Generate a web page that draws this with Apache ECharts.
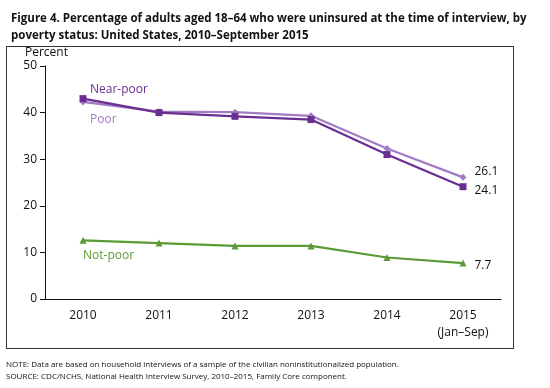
<!DOCTYPE html>
<html><head><meta charset="utf-8">
<script src="https://cdn.jsdelivr.net/npm/echarts@6/dist/echarts.min.js"></script>
<style>html,body{margin:0;padding:0;background:#fff}#wrap{position:relative;width:550px;height:388px}#c{width:550px;height:388px}#frame{position:absolute;left:6px;top:46px;width:506px;height:301px;border:1px solid #333;pointer-events:none}</style>
</head><body><div id="wrap"><div id="c"></div><div id="frame"></div></div>
<script>
var categories = ['2010','2011','2012','2013','2014','2015\n(Jan–Sep)'];
var nearPoor = [43.0, 40.0, 39.2, 38.5, 31.0, 24.1];
var poor = [42.3, 40.2, 40.1, 39.3, 32.3, 26.1];
var notPoor = [12.6, 12.0, 11.4, 11.4, 8.9, 7.7];
var yTicks = [0, 10, 20, 30, 40, 50];

var FONT = 'Open Sans';
function withEndLabel(arr, dy) {
  return arr.map(function (v, i) {
    if (i === arr.length - 1) {
      return {value: v, label: {show: true, position: 'right', distance: 8, offset: [0, dy],
        color: '#111', fontSize: 12, fontFamily: FONT, formatter: function (p) { return p.value.toFixed(1); }}};
    }
    return v;
  });
}
var chart = echarts.init(document.getElementById('c'), null, {renderer: 'canvas'});
chart.setOption({
  animation: false,
  grid: {left: 45, right: 49, top: 66, bottom: 89},
  title: {
    text: 'Figure 4. Percentage of adults aged 18–64 who were uninsured at the time of interview, by\npoverty status: United States, 2010–September 2015',
    left: 6, top: 5,
    textStyle: {fontSize: 11.5, fontWeight: 'bold', fontFamily: FONT, color: '#111', lineHeight: 17}
  },
  xAxis: {
    type: 'category', data: categories, boundaryGap: true,
    axisLine: {lineStyle: {color: '#111', width: 1}},
    axisTick: {alignWithLabel: true, length: 5, lineStyle: {color: '#111'}},
    axisLabel: {color: '#111', fontSize: 12, fontFamily: FONT, margin: 8, lineHeight: 17}
  },
  yAxis: {
    type: 'value', min: 0, max: 50, interval: 10,
    splitLine: {show: false},
    axisLine: {show: true, lineStyle: {color: '#111', width: 1}},
    axisTick: {show: true, length: 5, lineStyle: {color: '#111'}},
    axisLabel: {color: '#111', fontSize: 12, fontFamily: FONT, margin: 8,
      formatter: function (v) { return yTicks.indexOf(v) >= 0 ? String(v) : ''; }}
  },
  series: [
    {name: 'Poor', type: 'line', data: withEndLabel(poor, -6), symbol: 'diamond', symbolSize: 7,
      lineStyle: {color: '#a07cc4', width: 2.2}, itemStyle: {color: '#a07cc4'}},
    {name: 'Near-poor', type: 'line', data: withEndLabel(nearPoor, 4), symbol: 'rect', symbolSize: 7,
      lineStyle: {color: '#6a2d91', width: 2.2}, itemStyle: {color: '#6a2d91'}},
    {name: 'Not-poor', type: 'line', data: withEndLabel(notPoor, 2), symbol: 'triangle', symbolSize: 7,
      lineStyle: {color: '#5b9a35', width: 2.2}, itemStyle: {color: '#5b9a35'}}
  ],
  graphic: [
    {type: 'text', left: 25, top: 47, style: {text: 'Percent', fontSize: 12, fontFamily: FONT, fill: '#111'}},
    {type: 'text', left: 90, top: 84, style: {text: 'Near-poor', fontSize: 12, fontFamily: FONT, fill: '#6a2d91'}},
    {type: 'text', left: 90, top: 114, style: {text: 'Poor', fontSize: 12, fontFamily: FONT, fill: '#a07cc4'}},
    {type: 'text', left: 83, top: 250, style: {text: 'Not-poor', fontSize: 12, fontFamily: FONT, fill: '#5b9a35'}},
    {type: 'text', left: 6, top: 361, style: {text: 'NOTE: Data are based on household interviews of a sample of the civilian noninstitutionalized population.', fontSize: 8, fontFamily: FONT, fill: '#111'}},
    {type: 'text', left: 6, top: 373, style: {text: 'SOURCE: CDC/NCHS, National Health Interview Survey, 2010–2015, Family Core component.', fontSize: 8, fontFamily: FONT, fill: '#111'}}
  ]
});
</script></body></html>
